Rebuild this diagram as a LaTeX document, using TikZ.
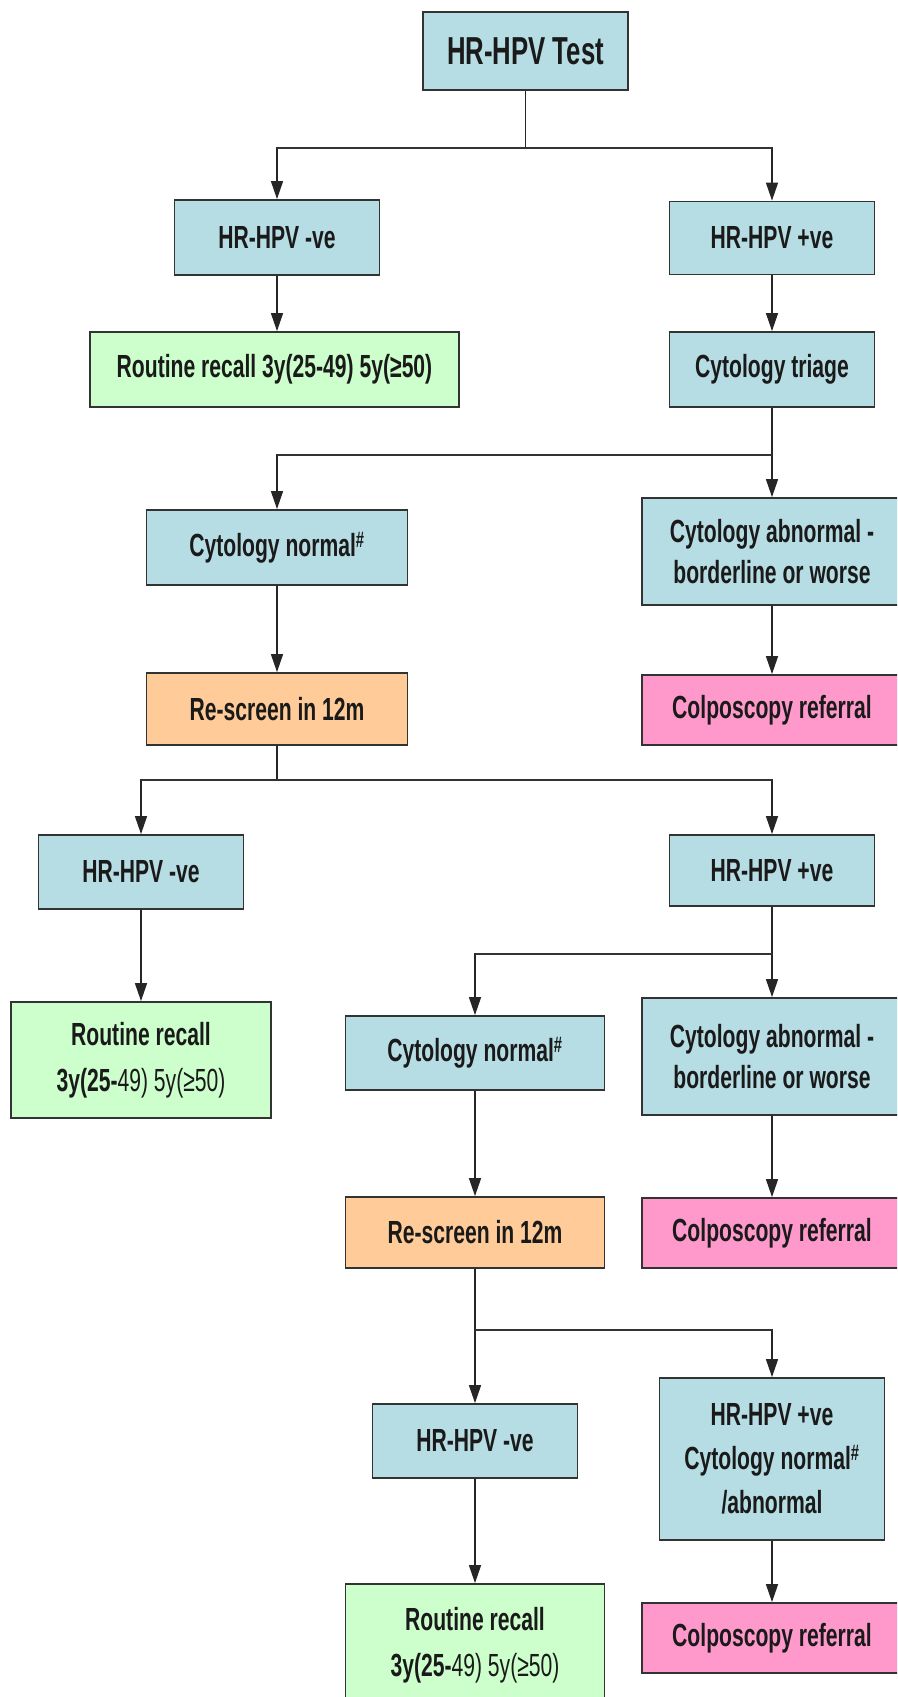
\documentclass[tikz,border=0pt]{standalone}
\usepackage{fontspec}
\setmainfont[FakeStretch=0.66]{Liberation Sans}
\usetikzlibrary{arrows.meta}
\definecolor{bluebox}{HTML}{B6DDE4}
\definecolor{greenbox}{HTML}{CCFFCC}
\definecolor{orangebox}{HTML}{FFCC99}
\definecolor{pinkbox}{HTML}{FF99CC}
\definecolor{boxline}{HTML}{333333}
\definecolor{textc}{HTML}{1A1A1A}
\begin{document}
\begin{tikzpicture}[x=1pt,y=-1pt,
  box/.style={draw=boxline, line width=1.8pt, align=center, inner sep=0pt, text=textc,
    font=\bfseries\fontsize{32}{41}\selectfont},
  bluen/.style={box, fill=bluebox},
  greenn/.style={box, fill=greenbox},
  orangen/.style={box, fill=orangebox},
  pinkn/.style={box, fill=pinkbox},
  conn/.style={draw=black!85, line width=1.4pt},
  arr/.style={conn, -{Triangle[length=18pt,width=12pt]}},
  bar/.style={draw=black!80, line width=2.6pt}]
\useasboundingbox (0,0) rectangle (897,1697);
\fill[white] (0,0) rectangle (897,1697);
\clip (0,0) rectangle (897,1697);

% nodes
\node[bluen, minimum width=205pt, minimum height=78pt, font=\bfseries\fontsize{39}{46}\selectfont] (test) at (525.5,51) {HR-HPV Test};
\node[bluen, minimum width=205pt, minimum height=75pt] (neg1) at (277,237.5) {HR-HPV -ve};
\node[bluen, minimum width=205pt, minimum height=73pt] (pos1) at (772,238) {HR-HPV +ve};
\node[greenn, minimum width=369pt, minimum height=75pt] (rr1) at (274.5,369.5) {Routine recall 3y(25-49) 5y(≥50)};
\node[bluen, minimum width=205pt, minimum height=75pt] (tri) at (772,369.5) {Cytology triage};
\node[bluen, minimum width=261pt, minimum height=75pt] (cn1) at (277,547.5) {Cytology normal\textsuperscript{\#}};
\node[bluen, minimum width=260pt, minimum height=107pt] (ca1) at (772,551.5) {Cytology abnormal -\\borderline or worse};
\node[orangen, minimum width=261pt, minimum height=72pt] (rs1) at (277,709) {Re-screen in 12m};
\node[pinkn, minimum width=260pt, minimum height=70pt] (cp1) at (772,710) {Colposcopy referral};
\node[bluen, minimum width=205pt, minimum height=74pt] (neg2) at (141,872) {HR-HPV -ve};
\node[bluen, minimum width=205pt, minimum height=71pt] (pos2) at (772,870.5) {HR-HPV +ve};
\node[greenn, minimum width=260pt, minimum height=116pt, font=\bfseries\fontsize{32}{46}\selectfont] (rr2) at (141,1060) {Routine recall\\3y(25-{\mdseries 49) 5y(≥50)}};
\node[bluen, minimum width=259pt, minimum height=74pt] (cn2) at (475,1053) {Cytology normal\textsuperscript{\#}};
\node[bluen, minimum width=260pt, minimum height=117pt] (ca2) at (772,1056.5) {Cytology abnormal -\\borderline or worse};
\node[orangen, minimum width=259pt, minimum height=71pt] (rs2) at (475,1232.5) {Re-screen in 12m};
\node[pinkn, minimum width=260pt, minimum height=70pt] (cp2) at (772,1233) {Colposcopy referral};
\node[bluen, minimum width=205pt, minimum height=74pt] (neg3) at (475,1441) {HR-HPV -ve};
\node[bluen, minimum width=225pt, minimum height=162pt, font=\bfseries\fontsize{32}{44}\selectfont] (pos3) at (772,1459) {HR-HPV +ve\\Cytology normal\textsuperscript{\#}\\/abnormal};
\node[greenn, minimum width=259pt, minimum height=122pt, font=\bfseries\fontsize{32}{46}\selectfont] (rr3) at (475,1645) {Routine recall\\3y(25-{\mdseries 49) 5y(≥50)}};
\node[pinkn, minimum width=260pt, minimum height=70pt] (cp3) at (772,1638) {Colposcopy referral};

% junctions
\coordinate (j1) at (525.5,148);
\coordinate (j2) at (772,455);
\coordinate (j3) at (277,780);
\coordinate (j4) at (772,954);
\coordinate (j5) at (475,1330);

% connectors
\draw[conn] (test) -- (j1);
\draw[arr] (j1) -| (neg1);
\draw[arr] (j1) -| (pos1);
\draw[bar] (neg1 |- j1) -- (pos1 |- j1);
\draw[arr] (neg1.south) -- (neg1.south |- rr1.north);
\draw[arr] (pos1) -- (tri);

\draw[conn] (tri) -- (j2);
\draw[arr] (j2) -| (cn1);
\draw[arr] (j2) -- (ca1);
\draw[bar] (cn1 |- j2) -- (j2);
\draw[arr] (cn1) -- (rs1);
\draw[arr] (ca1) -- (cp1);

\draw[conn] (rs1) -- (j3);
\draw[arr] (j3) -| (neg2);
\draw[arr] (j3) -| (pos2);
\draw[bar] (neg2 |- j3) -- (pos2 |- j3);
\draw[arr] (neg2) -- (rr2);

\draw[conn] (pos2) -- (j4);
\draw[arr] (j4) -| (cn2);
\draw[arr] (j4) -- (ca2);
\draw[bar] (cn2 |- j4) -- (j4);
\draw[arr] (cn2) -- (rs2);
\draw[arr] (ca2) -- (cp2);

\draw[conn] (rs2) -- (j5);
\draw[arr] (j5) -- (neg3);
\draw[arr] (j5) -| (pos3);
\draw[bar] (j5) -- (pos3 |- j5);
\draw[arr] (neg3) -- (rr3);
\draw[arr] (pos3) -- (cp3);
\end{tikzpicture}
\end{document}
